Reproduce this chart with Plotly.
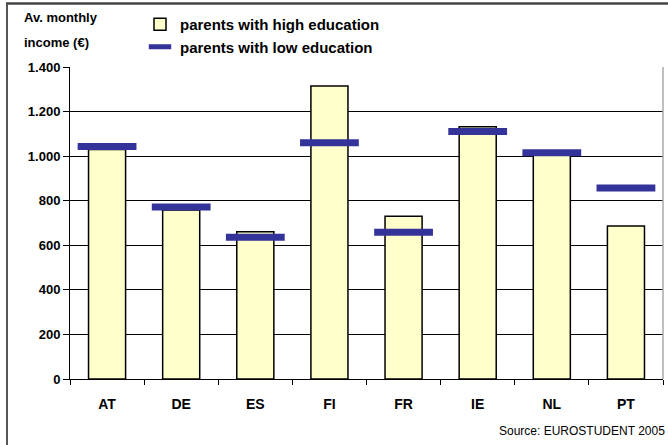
import plotly.graph_objects as go

categories = ["AT", "DE", "ES", "FI", "FR", "IE", "NL", "PT"]
high_edu = [1030, 758, 661, 1315, 730, 1132, 1005, 686]
low_edu = [1043, 772, 636, 1060, 658, 1111, 1015, 857]
y_ticks = [0, 200, 400, 600, 800, 1000, 1200, 1400]

W, H = 668, 445
L, R, T, B = 70, 5, 67, 66
pw, ph = W - L - R, H - T - B

def px_x(x):
    return (x - L) / pw

def px_y(y):
    return (H - B - y) / ph

font = "Liberation Sans, Arial, sans-serif"

fig = go.Figure()
fig.add_trace(go.Bar(
    x=categories, y=high_edu, name="parents with high education",
    width=0.5,
    marker=dict(color="#FFFFCC", line=dict(color="#000000", width=1.5)),
))
fig.add_trace(go.Scatter(
    x=categories, y=low_edu, name="parents with low education",
    mode="markers",
    marker=dict(symbol="line-ew", size=42, color="#333399",
                line=dict(color="#333399", width=7)),
))

fig.update_layout(
    width=W, height=H,
    margin=dict(l=L, r=R, t=T, b=B, autoexpand=False),
    paper_bgcolor="white", plot_bgcolor="white",
    separators=",.",
    font=dict(family=font, color="#000000"),
    showlegend=True,
    legend=dict(xref="container", yref="container",
                x=140 / W, y=1 - 8 / H, xanchor="left", yanchor="top",
                font=dict(size=15, family=font, weight="bold"),
                bgcolor="rgba(0,0,0,0)", tracegroupgap=0, itemwidth=30),
    xaxis=dict(showline=True, linecolor="#000000", linewidth=1,
               ticks="outside", ticklen=5, tickcolor="#000000",
               tickson="boundaries", showgrid=False, automargin=False,
               ticklabelstandoff=12,
               tickfont=dict(size=14, family=font, weight="bold"),
               range=[-0.5, 7.5]),
    yaxis=dict(range=[0, 1400], tickvals=y_ticks, tickformat=",d",
               showline=True, linecolor="#000000", linewidth=1,
               ticks="outside", ticklen=6, tickcolor="#000000",
               showgrid=True, gridcolor="#000000", gridwidth=1,
               zeroline=False, automargin=False,
               tickfont=dict(size=13, family=font, weight="bold")),
    bargap=0.5,
)

# figure frame and right plot border
fig.add_shape(type="line", xref="paper", yref="paper",
              x0=px_x(7), x1=px_x(7), y0=px_y(3), y1=px_y(480),
              line=dict(color="#555555", width=2))
fig.add_shape(type="line", xref="paper", yref="paper", layer="below",
              x0=px_x(6), x1=px_x(668), y0=px_y(3.5), y1=px_y(3.5),
              line=dict(color="#444444", width=2.5))
fig.add_shape(type="line", xref="paper", yref="paper",
              x0=1, x1=1, y0=0, y1=1,
              line=dict(color="#AAAAAA", width=1.5))

# top frame edge as an empty annotation box (backup for the shape)
fig.add_annotation(text="", xref="paper", yref="paper",
                   x=px_x(6), y=px_y(2.5), xanchor="left", yanchor="top",
                   width=660, height=1, borderpad=0, borderwidth=0,
                   bgcolor="#444444", showarrow=False)

fig.add_annotation(text="<b>Av. monthly</b>", xref="paper", yref="paper",
                   x=px_x(22), y=px_y(18), xanchor="left", yanchor="middle",
                   showarrow=False, font=dict(size=13, family=font))
fig.add_annotation(text="<b>income (€)</b>", xref="paper", yref="paper",
                   x=px_x(22), y=px_y(42), xanchor="left", yanchor="middle",
                   showarrow=False, font=dict(size=13, family=font))
fig.add_annotation(text="Source: EUROSTUDENT 2005", xref="paper", yref="paper",
                   x=px_x(667), y=px_y(431), xanchor="right", yanchor="middle",
                   showarrow=False, font=dict(size=12, family=font))

fig.write_html("out.html", config={"displayModeBar": False},
               post_script="document.body.style.margin='0';document.body.style.padding='0';")
